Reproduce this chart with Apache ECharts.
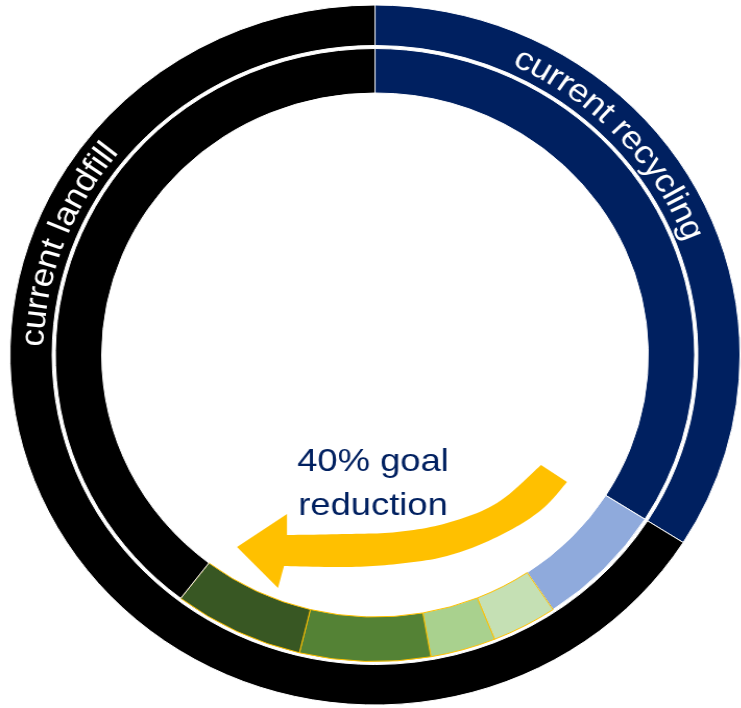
<!DOCTYPE html>
<html><head><meta charset="utf-8">
<script src="https://cdn.jsdelivr.net/npm/echarts@6/dist/echarts.min.js"></script>
<style>
html,body{margin:0;padding:0;background:#fff;overflow:hidden;width:741px;height:708px;}
#chart{width:710.45px;height:708px;transform:scaleX(1.043);transform-origin:0 0;}
</style></head><body><div id="chart"></div>
<script>
// ---- data ----
const outerNames = ['current recycling', 'current landfill'];
const outerValues = [34, 66];
const innerNames = ['current recycling', 'recycling increase', 'reduction A', 'reduction B', 'reduction C', 'reduction D', 'remaining landfill'];
const innerValues = [34, 6.6, 3.3, 3.3, 6.6, 6.6, 39.6];
const ringLabels = ['current recycling', 'current landfill'];
const goalLines = ['40% goal', 'reduction'];

// ---- layout / style ----
const SX = 1.043;
const CX = 375 / SX, CY = 355;
const R_OUT = 350, R_MID_O = 309.5, R_MID_I = 306.5, R_IN = 262;
const FONT = '32px "Liberation Sans", Arial, sans-serif';
const STRETCH = 1.09;
const outerColors = ['#002060', '#000000'];
const innerColors = ['#002060', '#8FAADC', '#C5E0B4', '#A9D18E', '#548235', '#385723', '#000000'];
const innerBorders = ['#ffffff', '#ffffff', '#FFC000', '#FFC000', '#FFC000', '#FFC000', '#ffffff'];

const ctx = document.createElement('canvas').getContext('2d');
ctx.font = FONT;
function arcText(str, midDeg, r) {
  const chars = [...str];
  const ws = chars.map(ch => ctx.measureText(ch).width * STRETCH);
  const total = ws.reduce((a, b) => a + b, 0);
  let acc = -total / 2;
  return chars.map((ch, i) => {
    const c = acc + ws[i] / 2; acc += ws[i];
    const th = midDeg * Math.PI / 180 + c / r;
    return {
      type: 'text', z: 20, silent: true,
      x: CX + r * Math.sin(th), y: CY - r * Math.cos(th), rotation: -th, scaleX: STRETCH,
      style: {text: ch, font: FONT, fill: '#ffffff', align: 'center', verticalAlign: 'middle',
              textAlign: 'center', textVerticalAlign: 'middle'}
    };
  });
}

// arrow outline (reference pixel coords)
const arrowUpper = [[541,465],[497,503],[447,523],[397,532],[347,534],[287,535]];
const arrowHead = [[287,514],[237,547],[278,588],[284,566]];
const arrowLower = [[284,566],[347,567],[397,564],[447,556],[497,537],[540,511],[567,482]];
function P(p) { return [p[0] / SX, p[1]]; }
function smoothPts(pts) {
  const out = [pts[0]];
  for (let i = 0; i < pts.length - 1; i++) {
    const p0 = pts[Math.max(i - 1, 0)], p1 = pts[i], p2 = pts[i + 1], p3 = pts[Math.min(i + 2, pts.length - 1)];
    const c1 = [p1[0] + (p2[0] - p0[0]) / 6, p1[1] + (p2[1] - p0[1]) / 6];
    const c2 = [p2[0] - (p3[0] - p1[0]) / 6, p2[1] - (p3[1] - p1[1]) / 6];
    for (let k = 1; k <= 12; k++) {
      const t = k / 12, u = 1 - t;
      out.push([
        u*u*u*p1[0] + 3*u*u*t*c1[0] + 3*u*t*t*c2[0] + t*t*t*p2[0],
        u*u*u*p1[1] + 3*u*u*t*c1[1] + 3*u*t*t*c2[1] + t*t*t*p2[1]
      ]);
    }
  }
  return out;
}
const arrowPts = [
  ...smoothPts(arrowUpper.map(P)),
  ...arrowHead.slice(0, 3).map(P),
  ...smoothPts(arrowLower.map(P))
];

const chart = echarts.init(document.getElementById('chart'), null, {renderer: 'canvas'});
const elements = [
  {type: 'polygon', z: 15, silent: true, shape: {points: arrowPts}, style: {fill: '#FFC000'}},
  ...arcText(ringLabels[0], 46.8, 327),
  ...arcText(ringLabels[1], 290.5, 327),
  ...goalLines.map((t, i) => ({
    type: 'text', z: 20, silent: true, x: 373 / SX, y: 462 + i * 44, scaleX: STRETCH,
    style: {text: t, font: FONT, fill: '#002060', align: 'center', verticalAlign: 'middle',
            textAlign: 'center', textVerticalAlign: 'middle'}
  }))
];

chart.setOption({
  animation: false,
  series: [
    {
      type: 'pie', name: 'outer', silent: true, startAngle: 90, clockwise: true,
      center: [CX, CY], radius: [R_MID_O, R_OUT], label: {show: false}, labelLine: {show: false},
      data: outerNames.map((n, i) => ({name: n, value: outerValues[i],
        itemStyle: {color: outerColors[i], borderColor: '#ffffff', borderWidth: 1}}))
    },
    {
      type: 'pie', name: 'inner', silent: true, startAngle: 90, clockwise: true,
      center: [CX, CY], radius: [R_IN, R_MID_I], label: {show: false}, labelLine: {show: false},
      data: innerNames.map((n, i) => ({name: n, value: innerValues[i],
        itemStyle: {color: innerColors[i], borderColor: innerBorders[i], borderWidth: 1}}))
    }
  ],
  graphic: {elements: elements}
});
</script></body></html>
